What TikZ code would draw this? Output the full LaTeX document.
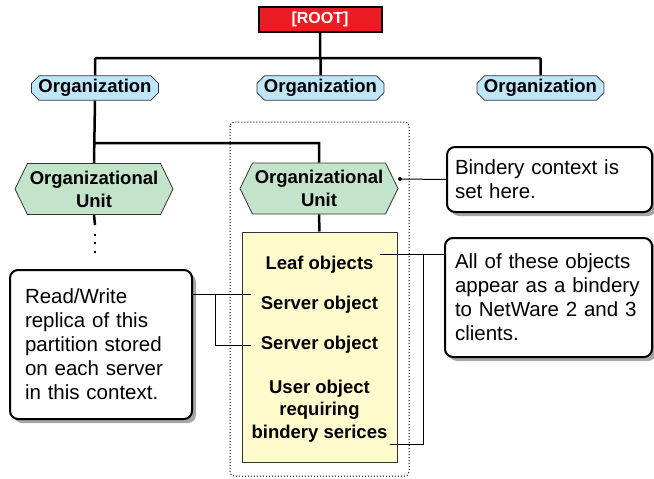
\documentclass[tikz,border=0pt]{standalone}
\usepackage{fontspec}
\setmainfont{Liberation Sans}
\usetikzlibrary{positioning, shapes.misc, shapes.symbols, shadows}
\definecolor{rootred}{HTML}{EC1C24}
\definecolor{orgblue}{HTML}{BEE6F8}
\definecolor{ougreen}{HTML}{C3E3CB}
\definecolor{leafyellow}{HTML}{FFFBCC}
\definecolor{shadowgray}{HTML}{A6A6A6}

\begin{document}
\begin{tikzpicture}[x=1pt, y=-1pt,
  tree/.style={line width=2.5pt},
  thinline/.style={line width=1pt},
  rootbox/.style={draw, line width=2pt, fill=rootred, text=white, minimum width=123pt, minimum height=25pt, inner sep=0pt, font=\fontsize{16}{18}\selectfont\bfseries},
  org/.style={chamfered rectangle, chamfered rectangle xsep=4pt, draw=black!80, line width=0.8pt, fill=orgblue, minimum width=127pt, minimum height=24pt, inner sep=0pt, font=\fontsize{18.5}{22}\selectfont\bfseries},
  ou/.style={signal, signal to=east and west, signal pointer angle=128, draw=black!80, line width=0.8pt, fill=ougreen, minimum width=158pt, minimum height=51pt, inner sep=0pt, align=center, font=\fontsize{18.5}{23}\selectfont\bfseries},
  callout/.style={draw, line width=2pt, rounded corners=8pt, fill=white, drop shadow={shadow xshift=4pt, shadow yshift=-4pt, fill=shadowgray, opacity=1}, align=left, inner ysep=0pt, font=\fontsize{20.5}{24}\selectfont},
  item/.style={font=\fontsize{18.5}{22.5}\selectfont\bfseries, align=center, inner sep=2pt}
]
\useasboundingbox (0,0) rectangle (654,479);

\node[rootbox] (root) at (320,19.5) {[ROOT]};

\node[org] (orgL) at (95,88) {Organization};
\node[org] (orgM) at (320.5,88) {Organization};
\node[org] (orgR) at (540.5,88) {Organization};

\node[ou] (ouL) at (94,189) {Organizational\\Unit};
\node[ou] (ouM) at (319,188.5) {Organizational\\Unit};

\draw[line width=1pt, dash pattern=on 1pt off 2pt, rounded corners=4pt]
    (230,122) rectangle (409,476);

\node[draw=black!80, line width=1pt, fill=leafyellow, minimum width=155pt, minimum height=230pt]
    (yellow) at (319.5,347) {};
\node[item] (leaf) at (319.5,265) {Leaf objects};
\node[item] (srvA) at (319.5,305) {Server object};
\node[item] (srvB) at (319.5,345) {Server object};
\node[item] (user) at (319.5,411) {User object\\requiring\\bindery serices};

\node[callout, minimum width=205pt, minimum height=65pt, inner xsep=8pt, text width=189pt]
    (bindery) at (549.5,179.5) {Bindery context is\\set here.};
\node[callout, minimum width=207pt, minimum height=119pt, inner xsep=10pt, text width=187pt]
    (allobj) at (548.5,297.5) {All of these objects\\appear as a bindery\\to NetWare 2 and 3\\clients.};
\node[callout, minimum width=182pt, minimum height=149pt, inner xsep=15pt, text width=152pt]
    (replica) at (101,344.5) {Read/Write\\replica of this\\partition stored\\on each server\\in this context.};

\coordinate (bus) at (320,58);
\coordinate (split) at (95,143);
\coordinate (ouLend) at (95,225);
\coordinate (bdot) at (400,179);
\coordinate (rbrk) at (423,0);
\coordinate (lbrk) at (215,0);

\draw[tree]
    (root.south) -- (root.south |- bus)
    (orgL.north |- bus) -- (orgR.north |- bus)
    (orgL.north |- bus) -- (orgL.north)
    (orgM.north |- bus) -- (orgM.north)
    (orgR.north |- bus) -- (orgR.north)
    (orgL.south) -- (ouL.north)
    (split) -| (ouM.north)
    (ouL.south) -- (ouLend)
    (ouM.south) -- (yellow.north)
    ;
\draw[line width=2.2pt, dash pattern=on 2.2pt off 6.3pt] ([yshift=-8.5pt]ouLend) -- ([yshift=-30pt]ouLend);

\fill (bdot) circle (2pt);
\draw[thinline] (bdot) -- (bindery.west);

\draw[thinline]
    ([xshift=4pt]leaf.north east) -- (allobj.west |- leaf.north east)
    (leaf.north east -| rbrk) -- (user.south east -| rbrk) -- (user.south east)
    ;
\draw[thinline]
    (replica.east |- srvA.north) -- ([xshift=-8pt]srvA.west |- srvA.north)
    (lbrk |- srvA.north) -- (lbrk |- srvB) -- ([xshift=-8pt]srvB.west)
    ;
\end{tikzpicture}
\end{document}
